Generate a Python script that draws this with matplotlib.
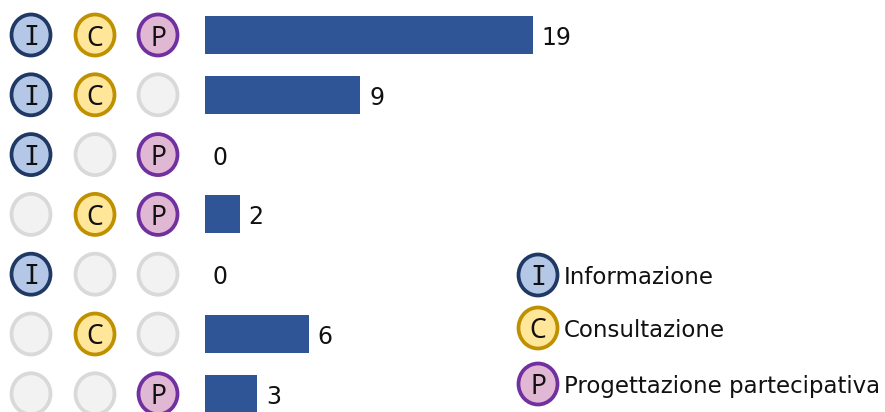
import numpy as np
import matplotlib
matplotlib.use("Agg")
import matplotlib.pyplot as plt
from matplotlib.patches import Ellipse

# numero di casi per ogni combinazione
valori = [19, 9, 0, 2, 0, 6, 3]
informazione = [1, 1, 1, 0, 1, 0, 0]
consultazione = [1, 1, 0, 1, 0, 1, 0]
progettazione = [1, 0, 1, 1, 0, 0, 1]

lettere = ["I", "C", "P"]
voci_legenda = ["Informazione", "Consultazione", "Progettazione partecipativa"]
riempimenti = ["#B4C7E7", "#FFE699", "#E0B8D3"]
bordi = ["#1F3864", "#BF9000", "#7030A0"]
colore_barre = "#2F5597"

W, H = 885, 412
fig = plt.figure(figsize=(W / 100, H / 100), dpi=100)
# assi a tutta figura: x in unita' dei valori, y in righe
ax = fig.add_axes([0, 0, 1, 1])
px_x = 17.25
px_y = 59.8
x0, y0 = 205, 35
ax.set_xlim(-x0 / px_x, (W - x0) / px_x)
ax.set_ylim((H - y0) / px_y, -y0 / px_y)
ax.axis("off")

righe = np.arange(len(valori))
ax.barh(righe, valori, height=38 / px_y, color=colore_barre, left=0)

for r, v in zip(righe, valori):
    ax.annotate(str(v), (v, r), xytext=(9 if v else 7, -3), textcoords="offset pixels",
                ha="left", va="center", fontsize=17, color="#111111")


def cerchio(x, y, lettera, fill, edge):
    ax.add_patch(Ellipse((x, y), 39 / px_x, 41 / px_y, facecolor=fill, edgecolor=edge,
                         linewidth=2.7, zorder=3))
    if lettera:
        famiglia = "DejaVu Sans Mono" if lettera == "I" else "Noto Sans"
        ax.text(x, y, lettera, ha="center", va="center_baseline", fontsize=19, color="#111111",
                family=famiglia, zorder=4)


# colonne dei cerchi (pixel)
colonne = [31, 95, 158]
matrice = [informazione, consultazione, progettazione]
for c, xc in enumerate(colonne):
    for r in righe:
        x = (xc - x0) / px_x
        if matrice[c][r]:
            cerchio(x, r, lettere[c], riempimenti[c], bordi[c])
        else:
            cerchio(x, r, "", "#F2F2F2", "#D9D9D9")

# legenda
legenda_y = [275, 328, 384]
for i, yl in enumerate(legenda_y):
    x = (538 - x0) / px_x
    y = (yl - y0) / px_y
    cerchio(x, y, lettere[i], riempimenti[i], bordi[i])
    ax.text((564 - x0) / px_x, y, voci_legenda[i], ha="left", va="center_baseline",
            fontsize=16.5, color="#111111")

fig.savefig("out.png", dpi=100)
